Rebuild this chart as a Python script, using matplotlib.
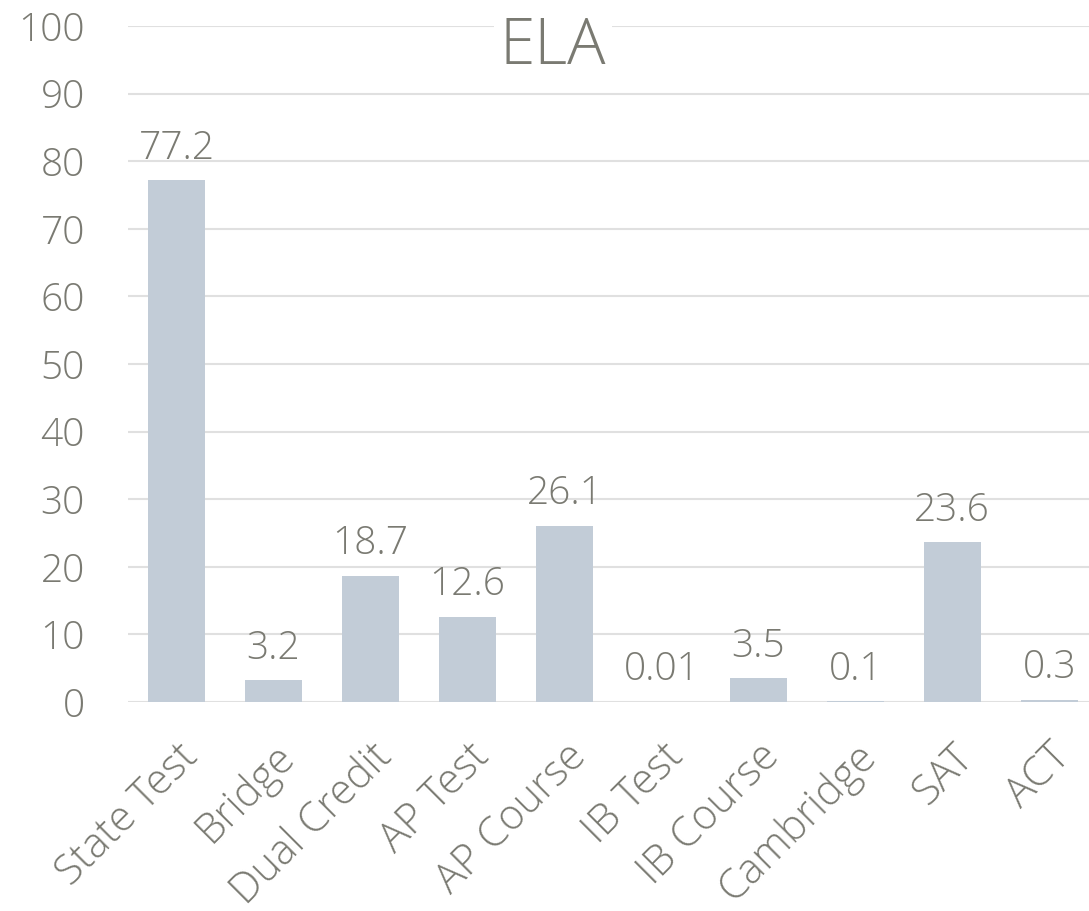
import matplotlib.pyplot as plt

# ELA chart data
categories = ['State Test', 'Bridge', 'Dual Credit', 'AP Test', 'AP Course',
              'IB Test', 'IB Course', 'Cambridge', 'SAT', 'ACT']
values = [77.2, 3.2, 18.7, 12.6, 26.1, 0.01, 3.5, 0.1, 23.6, 0.3]
labels = ['77.2', '3.2', '18.7', '12.6', '26.1', '0.01', '3.5', '0.1', '23.6', '0.3']

text_col = '#7a7a72'
bar_col = '#c2ccd7'
grid_col = '#e0e0e0'

plt.rcParams['font.family'] = ['Open Sans', 'DejaVu Sans']

fig = plt.figure(figsize=(10.89, 9.11), dpi=100)
ax = fig.add_axes([128 / 1089, 1 - 702 / 911, 1 - 128 / 1089, (702 - 26) / 911])

x = range(len(categories))
ax.bar(x, values, width=0.59, color=bar_col, zorder=2)

for xi, v, lab in zip(x, values, labels):
    ax.annotate(lab, (xi, v), xytext=(0, 9), textcoords='offset points',
                ha='center', va='bottom', fontsize=28, color=text_col,
                fontweight='light')

ax.set_ylim(0, 100)
ax.set_xlim(-0.5, 9.41)
ax.set_yticks(range(0, 101, 10))
ax.set_yticklabels([str(t) for t in range(0, 101, 10)], fontsize=28,
                   color=text_col, fontweight='light')
ax.set_xticks(list(x))
ax.set_xticklabels(categories, rotation=45, ha='right', va='top',
                   rotation_mode='anchor', fontsize=30, color=text_col,
                   fontweight='light')
ax.tick_params(axis='both', length=0)
ax.tick_params(axis='y', pad=31)
ax.tick_params(axis='x', pad=24)
for s in ax.spines.values():
    s.set_visible(False)
ax.yaxis.grid(True, color=grid_col, linewidth=1.5, zorder=0)
ax.set_axisbelow(True)

fig.text(553 / 1089, 1 - 47 / 911, 'ELA', ha='center', va='center',
         fontsize=46, color=text_col, fontweight='light',
         bbox=dict(facecolor='white', edgecolor='none', pad=4))

plt.savefig('out.png', dpi=100)
